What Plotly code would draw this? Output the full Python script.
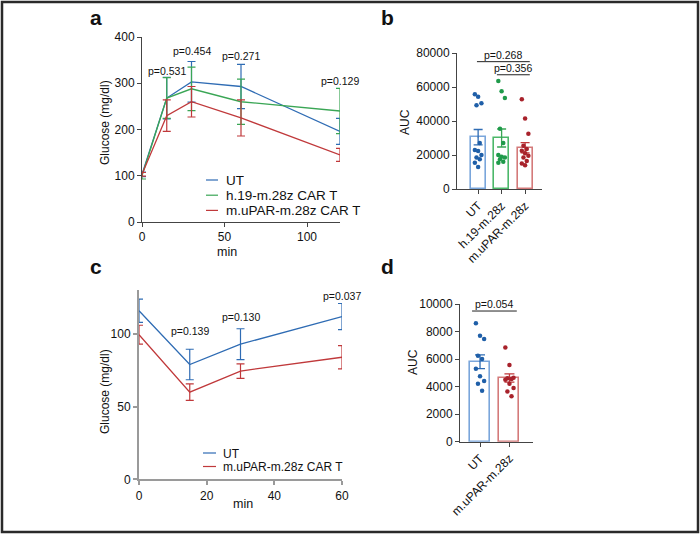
import plotly.graph_objects as go

W, H = 700, 535

# ---------------- Panel a data ----------------
time_a = [0, 15, 30, 60, 120]
ut_a = [103, 268, 303, 293, 196]
ut_a_err = [5, 45, 44, 48, 28]
h19_a = [100, 268, 288, 260, 240]
h19_a_err = [7, 44, 47, 49, 49]
upar_a = [103, 230, 260, 225, 145]
upar_a_err = [4, 34, 33, 39, 14]
p_a_labels = ["p=0.531", "p=0.454", "p=0.271", "p=0.129"]
p_a_time = [15, 30, 60, 120]
p_a_y = [326, 370, 359, 305]

# ---------------- Panel b data ----------------
b_categories = ["UT", "h.19-m.28z", "m.uPAR-m.28z"]
b_means = [30500, 30000, 24300]
b_sem = [4500, 5300, 3000]
b_ut_pts = [55800, 54200, 50500, 49300, 27000, 23000, 22300, 20000, 18500, 17500, 15500, 13000]
b_h19_pts = [63500, 57500, 53500, 35500, 27000, 20000, 19000, 18500, 17500, 16000, 15500]
b_upar_pts = [52800, 41500, 32500, 25500, 23500, 22500, 21000, 19500, 18500, 16500, 15000, 14000]
b_p_labels = ["p=0.268", "p=0.356"]
b_p_pairs = [(0, 2), (1, 2)]
b_p_line_y = [74900, 67200]

# ---------------- Panel c data ----------------
time_c = [0, 15, 30, 60]
ut_c = [116, 79, 93, 112]
ut_c_err = [8, 10.5, 10.6, 9]
upar_c = [99.5, 60, 74.5, 84]
upar_c_err = [6.5, 5.7, 5, 8]
p_c_labels = ["p=0.139", "p=0.130", "p=0.037"]
p_c_time = [15, 30, 60]
p_c_y = [102, 111.7, 126]

# ---------------- Panel d data ----------------
d_categories = ["UT", "m.uPAR-m.28z"]
d_means = [5800, 4620]
d_sem = [500, 300]
d_ut_pts = [8600, 7700, 7450, 6250, 6000, 5300, 4750, 4400, 4200, 3700]
d_upar_pts = [6850, 5570, 4650, 4600, 4550, 4500, 4200, 3900, 3650, 3300]
d_p_label = "p=0.054"
d_p_line_y = 9490

# ---------------- styling ----------------
FONT = "Arial, Liberation Sans, sans-serif"
BLUE = "#2f6cb4"
GREEN = "#3aa655"
RED = "#c0393b"
BLUE_DOT = "#1f5fa8"
GREEN_DOT = "#1f9a4a"
RED_DOT = "#a8222b"
BLUE_BAR = "#7aa6db"
GREEN_BAR = "#4cb86a"
RED_BAR = "#d47a7a"
AXC = "#444444"


def fx(px):
    return px / W


def fy(py):
    return 1 - py / H


fig = go.Figure()

# ---- panel a lines ----
for y, e, c in [(ut_a, ut_a_err, BLUE), (h19_a, h19_a_err, GREEN), (upar_a, upar_a_err, RED)]:
    fig.add_trace(go.Scatter(
        x=time_a, y=y, mode="lines", line=dict(color=c, width=1.3),
        error_y=dict(type="data", array=e, color=c, thickness=1.2, width=4),
        xaxis="x", yaxis="y", cliponaxis=False, showlegend=False))

# ---- panel b bars and dots ----
fig.add_trace(go.Bar(
    x=[0, 1, 2], y=b_means, width=0.64,
    marker=dict(color="white", line=dict(color=[BLUE_BAR, GREEN_BAR, RED_BAR], width=1.6)),
    xaxis="x2", yaxis="y2", showlegend=False))
for i, (m, s, c) in enumerate(zip(b_means, b_sem, [BLUE, GREEN, RED])):
    fig.add_trace(go.Scatter(
        x=[i], y=[m], mode="markers", marker=dict(size=1, color=c),
        error_y=dict(type="data", array=[s], color=c, thickness=1.3, width=4.5),
        xaxis="x2", yaxis="y2", showlegend=False))
jit = [-0.14, 0.0, 0.14, -0.07, 0.07]
for i, (pts, c) in enumerate([(b_ut_pts, BLUE_DOT), (b_h19_pts, GREEN_DOT), (b_upar_pts, RED_DOT)]):
    xs = [i + jit[k % len(jit)] for k in range(len(pts))]
    fig.add_trace(go.Scatter(
        x=xs, y=pts, mode="markers", marker=dict(size=4.5, color=c),
        xaxis="x2", yaxis="y2", cliponaxis=False, showlegend=False))

# ---- panel c lines ----
for y, e, c in [(ut_c, ut_c_err, BLUE), (upar_c, upar_c_err, RED)]:
    fig.add_trace(go.Scatter(
        x=time_c, y=y, mode="lines", line=dict(color=c, width=1.3),
        error_y=dict(type="data", array=e, color=c, thickness=1.2, width=4),
        xaxis="x3", yaxis="y3", cliponaxis=False, showlegend=False))

# ---- panel d bars and dots ----
fig.add_trace(go.Bar(
    x=[0, 1], y=d_means, width=0.68,
    marker=dict(color="white", line=dict(color=[BLUE_BAR, RED_BAR], width=1.6)),
    xaxis="x4", yaxis="y4", showlegend=False))
for i, (m, s, c) in enumerate(zip(d_means, d_sem, [BLUE, RED])):
    fig.add_trace(go.Scatter(
        x=[i], y=[m], mode="markers", marker=dict(size=1, color=c),
        error_y=dict(type="data", array=[s], color=c, thickness=1.3, width=5),
        xaxis="x4", yaxis="y4", showlegend=False))
for i, (pts, c) in enumerate([(d_ut_pts, BLUE_DOT), (d_upar_pts, RED_DOT)]):
    xs = [i + jit[k % len(jit)] for k in range(len(pts))]
    fig.add_trace(go.Scatter(
        x=xs, y=pts, mode="markers", marker=dict(size=4.5, color=c),
        xaxis="x4", yaxis="y4", cliponaxis=False, showlegend=False))

tickfont = dict(family=FONT, size=12, color="#111")


def axis(domain, rng, color=AXC, width=1, **kw):
    d = dict(domain=domain, range=rng, showline=True, linecolor=color, linewidth=width,
             ticks="outside", ticklen=4, tickcolor=color, tickwidth=width,
             showgrid=False, zeroline=False, tickfont=tickfont, fixedrange=True,
             automargin=False, tickformat="d")
    d.update(kw)
    return d


layout = dict(
    template="none",
    width=W, height=H, margin=dict(l=0, r=0, t=0, b=0, autoexpand=False),
    paper_bgcolor="white", plot_bgcolor="white", showlegend=False,
    font=dict(family=FONT, color="#111"),
    bargap=0,
    xaxis=axis([fx(142), fx(340)], [0, 120], anchor="y", tickvals=[0, 50, 100]),
    yaxis=axis([fy(222), fy(37)], [0, 400], anchor="x", tickvals=[0, 100, 200, 300, 400]),
    xaxis2=axis([fx(457), fx(542)], [-0.9, 2.72], anchor="y2", tickvals=[0, 1, 2],
                ticktext=b_categories, tickangle=-45),
    yaxis2=axis([fy(189), fy(53)], [0, 80000], anchor="x2",
                tickvals=[0, 20000, 40000, 60000, 80000]),
    xaxis3=axis([fx(139), fx(342)], [0, 60], color="#9a9a9a", width=2, anchor="y3",
                tickvals=[0, 20, 40, 60]),
    yaxis3=axis([fy(479.3), fy(290.4)], [0, 130], color="#9a9a9a", width=2, anchor="x3",
                tickvals=[0, 50, 100]),
    xaxis4=axis([fx(460), fx(533)], [-0.68, 1.8], anchor="y4", tickvals=[0, 1],
                ticktext=d_categories, tickangle=-45),
    yaxis4=axis([fy(441.7), fy(304)], [0, 10000], anchor="x4",
                tickvals=[0, 2000, 4000, 6000, 8000, 10000]),
)
fig.update_layout(**layout)

ann = []
shapes = []
pfont = dict(family=FONT, size=10.5, color="#111")

# p-values panel a
for lab, t, yv in zip(p_a_labels, p_a_time, p_a_y):
    ann.append(dict(x=t, y=yv, xref="x", yref="y", text=lab, showarrow=False, font=pfont,
                    xanchor="center", yanchor="middle"))
# p-values panel c
for lab, t, yv in zip(p_c_labels, p_c_time, p_c_y):
    ann.append(dict(x=t, y=yv, xref="x3", yref="y3", text=lab, showarrow=False, font=pfont,
                    xanchor="center", yanchor="middle"))
# brackets panel b
for lab, (i0, i1), ly in zip(b_p_labels, b_p_pairs, b_p_line_y):
    x0 = i0 - 0.05 if i0 == 0 else i0 - 0.2
    x1 = i1 + 0.2
    shapes.append(dict(type="line", xref="x2", yref="y2", x0=x0, x1=x1, y0=ly, y1=ly,
                       line=dict(color="#222", width=1)))
    ann.append(dict(x=(x0 + x1) / 2, y=ly, xref="x2", yref="y2", text=lab, showarrow=False,
                    xanchor="center", yanchor="bottom", yshift=-1, font=pfont))
# bracket panel d
shapes.append(dict(type="line", xref="x4", yref="y4", x0=-0.27, x1=1.25, y0=d_p_line_y,
                   y1=d_p_line_y, line=dict(color="#222", width=1)))
ann.append(dict(x=0.49, y=d_p_line_y, xref="x4", yref="y4", text=d_p_label, showarrow=False,
                xanchor="center", yanchor="bottom", yshift=-1, font=pfont))


def pann(text, px, py, size=12, angle=0, xanchor="center", height=None):
    d = dict(x=fx(px), y=fy(py), xref="paper", yref="paper", text=text, showarrow=False,
             xanchor=xanchor, yanchor="middle", textangle=angle, borderpad=0,
             font=dict(family=FONT, size=size, color="#111"))
    if height:
        d["height"] = height
    return d


# axis titles
ann += [
    pann("Glucose (mg/dl)", 105, 123, angle=-90),
    pann("min", 227, 252, size=12.5),
    pann("AUC", 405, 122, angle=-90),
    pann("Glucose (mg/dl)", 105, 392, angle=-90),
    pann("min", 243, 504, size=12.5),
    pann("AUC", 413, 362, angle=-90),
]

# panel letters
for lab, px, py in [("a", 96, 17), ("b", 387, 17), ("c", 96, 266), ("d", 387, 266)]:
    ann.append(pann("<b>%s</b>" % lab, px, py, size=21))

# legends
leg_a = [("UT", BLUE), ("h.19-m.28z CAR T", GREEN), ("m.uPAR-m.28z CAR T", RED)]
for k, (lab, c) in enumerate(leg_a):
    yy = 180 + k * 15.2
    shapes.append(dict(type="line", xref="paper", yref="paper", x0=fx(206), x1=fx(218),
                       y0=fy(yy), y1=fy(yy), line=dict(color=c, width=1.2)))
    ann.append(pann(lab, 225, yy, size=13.5, xanchor="left", height=13))
leg_c = [("UT", BLUE), ("m.uPAR-m.28z CAR T", RED)]
for k, (lab, c) in enumerate(leg_c):
    yy = 453 + k * 13.5
    shapes.append(dict(type="line", xref="paper", yref="paper", x0=fx(203), x1=fx(216),
                       y0=fy(yy), y1=fy(yy), line=dict(color=c, width=1.2)))
    ann.append(pann(lab, 222, yy, size=12, xanchor="left", height=11))

# frame border
shapes.append(dict(type="rect", xref="paper", yref="paper", x0=fx(2), x1=fx(698), y0=fy(532),
                   y1=fy(2), line=dict(color="#2a2a2a", width=2.5)))

fig.update_layout(annotations=ann, shapes=shapes)
fig.write_html("out.html", config={"displayModeBar": False},
               post_script="document.body.style.margin='0';document.body.style.overflow='hidden';")
